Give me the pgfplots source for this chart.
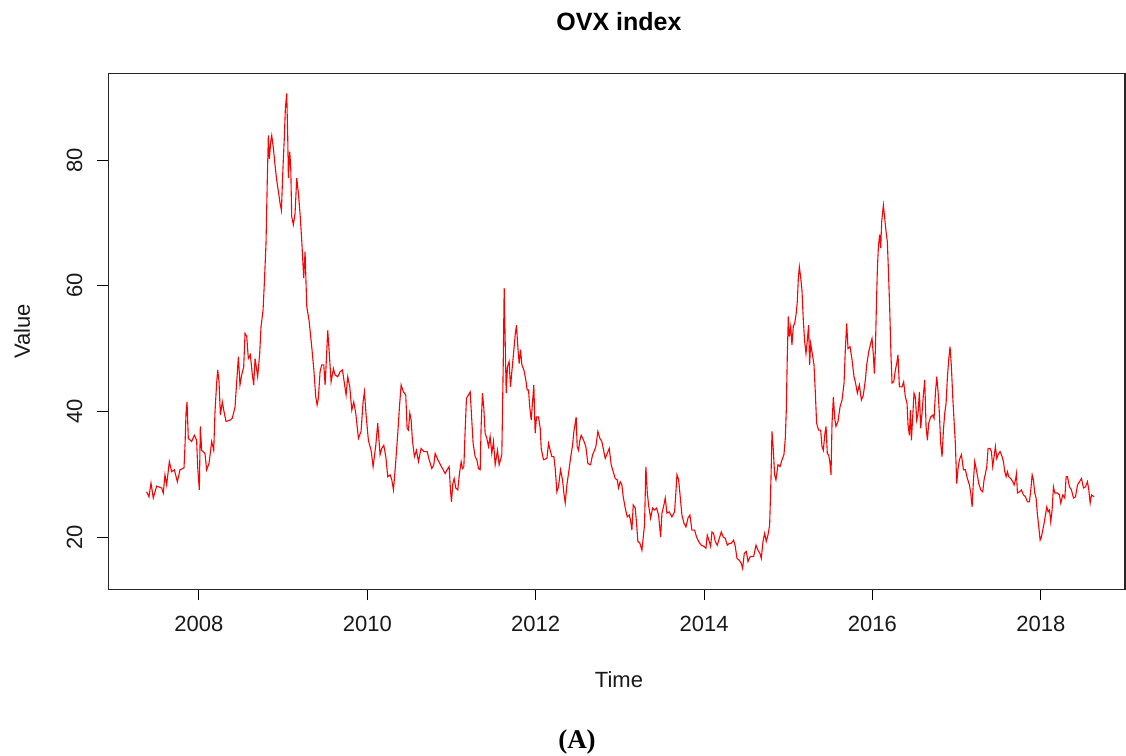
\documentclass[border=0pt]{standalone}
\usepackage{pgfplots}
\pgfplotsset{compat=1.18}
\usepackage{fontspec}
\setmainfont{Liberation Sans}
\newfontfamily\serifA{Liberation Serif}
\begin{document}
\begin{tikzpicture}
\path[use as bounding box] (0pt,0pt) rectangle (563pt,378pt);
\begin{axis}[
  at={(54.2pt,83.35pt)}, anchor=south west,
  scale only axis, width=508.3pt, height=258pt,
  xmin=2006.925, xmax=2019.0, ymin=11.68, ymax=93.8,
  xtick={2008,2010,2012,2014,2016,2018},
  ytick={20,40,60,80},
  xticklabels={2008,2010,2012,2014,2016,2018},
  yticklabels={20,40,60,80},
  tick align=outside, major tick length=5.5pt,
  xtick pos=bottom, ytick pos=left,
  tick style={black, line width=0.5pt},
  axis line style={line width=0.6pt, draw=black!85},
  tick label style={font=\fontsize{11}{13}\selectfont, text=black!90},
  xticklabel shift=4.5pt,
  yticklabel style={rotate=90, anchor=south},
  yticklabel shift=4pt,
  clip=true,
]
\addplot[red, line width=0.55pt] coordinates {
(2007.379,27.2)(2007.407,26.4)(2007.431,28.6)(2007.458,26.2)(2007.498,28.1)(2007.558,27.8)(2007.577,27.0)(2007.597,29.9)(2007.617,28.3)(2007.649,32.0)(2007.676,30.4)(2007.708,30.7)(2007.744,28.8)(2007.775,30.7)(2007.823,31.0)(2007.835,34.6)(2007.847,39.7)(2007.859,41.5)(2007.874,35.7)(2007.914,35.2)(2007.946,36.2)(2007.973,35.4)(2007.985,31.2)(2008.005,27.5)(2008.017,37.6)(2008.033,33.8)(2008.072,33.3)(2008.092,30.7)(2008.120,31.7)(2008.152,35.2)(2008.176,33.8)(2008.191,39.9)(2008.211,44.5)(2008.223,46.6)(2008.239,44.7)(2008.255,39.4)(2008.278,41.5)(2008.302,39.7)(2008.322,38.4)(2008.370,38.6)(2008.397,38.9)(2008.429,40.7)(2008.449,44.7)(2008.469,48.7)(2008.488,44.2)(2008.508,45.8)(2008.532,47.1)(2008.548,52.4)(2008.568,51.9)(2008.587,48.4)(2008.611,49.0)(2008.635,45.8)(2008.651,44.2)
(2008.667,48.4)(2008.698,45.5)(2008.722,49.2)(2008.738,53.5)(2008.762,56.1)(2008.778,60.6)(2008.797,66.7)(2008.813,77.3)(2008.825,83.9)(2008.837,80.2)(2008.853,82.9)(2008.865,83.9)(2008.885,81.8)(2008.904,79.2)(2008.924,76.8)(2008.944,75.0)(2008.964,73.1)(2008.980,72.0)(2008.999,78.9)(2009.015,83.7)(2009.027,88.2)(2009.043,90.6)(2009.055,83.7)(2009.063,77.1)(2009.079,81.3)(2009.091,78.7)(2009.102,71.0)(2009.122,69.7)(2009.142,71.5)(2009.162,77.1)(2009.182,74.7)(2009.201,71.5)(2009.221,67.3)(2009.245,61.2)(2009.261,65.4)(2009.281,56.7)(2009.308,54.5)(2009.340,50.3)(2009.364,46.8)(2009.388,42.3)(2009.404,41.0)(2009.419,42.1)(2009.439,46.3)(2009.459,47.4)(2009.483,47.4)(2009.499,44.2)(2009.514,48.2)(2009.530,52.9)(2009.546,49.8)(2009.570,44.7)(2009.598,46.8)(2009.617,45.8)(2009.649,45.5)(2009.677,46.3)(2009.705,46.6)(2009.728,44.5)(2009.748,42.6)(2009.768,45.5)(2009.792,43.9)(2009.816,40.2)(2009.839,41.5)(2009.863,39.7)(2009.895,35.7)(2009.926,36.8)(2009.950,41.5)(2009.966,43.1)(2009.986,39.4)(2010.013,35.4)(2010.045,33.8)(2010.069,31.2)(2010.101,34.6)(2010.124,38.1)
(2010.152,33.1)(2010.172,34.1)(2010.196,34.6)(2010.220,32.8)(2010.243,29.6)(2010.271,29.9)(2010.291,29.1)(2010.311,27.5)(2010.338,32.0)(2010.362,36.5)(2010.382,40.7)(2010.402,44.2)(2010.429,43.1)(2010.457,42.6)(2010.473,37.3)(2010.489,37.0)(2010.505,39.7)(2010.521,38.6)(2010.536,35.4)(2010.560,32.8)(2010.584,33.8)(2010.608,32.0)(2010.639,34.1)(2010.671,33.6)(2010.711,33.6)(2010.735,32.3)(2010.766,30.9)(2010.790,31.5)(2010.806,33.3)(2010.838,32.3)(2010.869,31.5)(2010.893,30.9)(2010.925,30.1)(2010.948,30.7)(2010.972,31.2)(2010.988,27.5)(2011.000,25.6)(2011.016,28.5)(2011.032,29.3)(2011.051,27.8)(2011.075,27.5)(2011.095,30.1)(2011.115,32.0)(2011.131,30.9)(2011.147,31.2)(2011.162,36.8)(2011.178,42.1)(2011.202,42.6)(2011.222,43.1)(2011.242,38.4)(2011.257,34.9)(2011.281,32.8)(2011.301,32.3)(2011.321,30.9)(2011.341,30.7)(2011.352,37.6)(2011.368,42.9)(2011.384,40.5)(2011.400,36.5)(2011.420,35.7)(2011.440,34.4)(2011.459,36.0)(2011.479,33.3)(2011.499,35.2)(2011.519,31.5)(2011.547,33.8)(2011.566,31.5)
(2011.598,33.1)(2011.614,46.8)(2011.626,59.6)(2011.638,51.1)(2011.650,42.9)(2011.665,47.1)(2011.685,47.9)(2011.701,43.9)(2011.717,46.3)(2011.737,49.2)(2011.757,52.2)(2011.772,53.7)(2011.788,50.3)(2011.804,47.6)(2011.820,49.8)(2011.836,47.4)(2011.860,46.6)(2011.883,45.0)(2011.899,43.4)(2011.915,43.4)(2011.931,40.5)(2011.947,38.6)(2011.962,41.3)(2011.978,44.2)(2011.994,36.5)(2012.010,39.1)(2012.034,39.1)(2012.054,37.3)(2012.066,34.1)(2012.093,32.3)(2012.133,32.5)(2012.153,34.9)(2012.173,33.8)(2012.192,32.8)(2012.216,32.8)(2012.232,30.9)(2012.252,27.2)(2012.271,28.0)(2012.295,30.7)(2012.319,29.1)(2012.335,27.0)(2012.351,25.4)(2012.371,28.3)(2012.390,30.1)(2012.414,32.5)(2012.438,34.6)(2012.454,36.8)(2012.470,38.1)(2012.481,39.1)(2012.493,34.4)(2012.509,33.8)(2012.525,35.4)(2012.541,36.2)(2012.569,35.4)(2012.596,34.4)(2012.620,31.7)(2012.652,31.5)(2012.676,33.1)(2012.699,33.8)(2012.715,34.4)(2012.739,36.8)(2012.763,35.7)(2012.786,35.2)(2012.810,33.6)(2012.826,32.5)(2012.850,33.3)(2012.874,34.1)(2012.897,31.5)(2012.921,30.4)(2012.945,29.3)(2012.969,29.1)
(2012.984,27.8)(2013.004,28.8)(2013.024,28.3)(2013.040,26.4)(2013.064,24.6)(2013.088,23.2)(2013.111,23.5)(2013.127,22.7)(2013.143,21.1)(2013.159,25.1)(2013.183,24.6)(2013.198,22.2)(2013.214,19.3)(2013.238,19.0)(2013.262,17.9)(2013.278,20.0)(2013.293,21.9)(2013.309,31.2)(2013.325,27.2)(2013.341,25.1)(2013.365,23.0)(2013.389,24.6)(2013.412,24.3)(2013.436,24.6)(2013.460,23.5)(2013.484,20.0)(2013.500,23.8)(2013.523,25.1)(2013.539,26.2)(2013.559,23.8)(2013.587,24.0)(2013.618,23.2)(2013.650,24.0)(2013.666,27.2)(2013.678,29.9)(2013.698,29.1)(2013.717,26.4)(2013.737,23.5)(2013.761,22.2)(2013.785,21.6)(2013.809,23.0)(2013.832,23.5)(2013.856,21.1)(2013.888,21.1)(2013.911,20.0)(2013.935,19.3)(2013.967,18.7)(2013.999,18.5)(2014.022,18.2)(2014.038,20.3)(2014.062,19.3)(2014.078,18.5)(2014.094,20.8)(2014.113,20.6)(2014.133,19.3)(2014.157,18.7)(2014.181,19.8)(2014.205,20.8)(2014.228,20.0)(2014.252,19.8)(2014.276,18.7)(2014.300,19.0)(2014.323,19.0)(2014.351,19.5)
(2014.371,18.5)(2014.391,16.6)(2014.419,16.3)(2014.442,15.8)(2014.458,15.0)(2014.478,17.4)(2014.502,17.7)(2014.522,16.1)(2014.549,16.9)(2014.589,16.9)(2014.617,18.7)(2014.640,17.9)(2014.664,17.4)(2014.680,16.6)(2014.700,19.3)(2014.720,20.6)(2014.739,19.3)(2014.759,20.3)(2014.779,21.9)(2014.795,29.3)(2014.807,36.8)(2014.823,33.8)(2014.838,29.9)(2014.854,29.1)(2014.878,31.5)(2014.902,31.2)(2014.926,32.3)(2014.949,33.1)(2014.965,35.7)(2014.977,40.2)(2014.989,49.0)(2015.001,55.1)(2015.013,51.9)(2015.029,53.5)(2015.044,50.6)(2015.060,53.5)(2015.076,54.0)(2015.092,55.3)(2015.108,57.5)(2015.120,61.2)(2015.132,63.0)(2015.147,61.4)(2015.163,59.3)(2015.179,54.5)(2015.195,51.1)(2015.211,49.2)(2015.227,51.4)(2015.242,53.7)(2015.254,47.4)(2015.266,50.8)(2015.282,49.5)(2015.306,47.4)(2015.322,42.9)(2015.337,38.1)(2015.361,37.0)(2015.385,37.0)(2015.401,34.4)(2015.417,33.8)(2015.433,36.2)(2015.449,37.6)(2015.464,33.3)(2015.480,33.1)(2015.496,31.7)(2015.508,29.9)(2015.520,38.1)(2015.536,42.3)(2015.552,38.9)(2015.567,37.6)(2015.591,38.4)(2015.615,40.7)(2015.639,41.8)(2015.663,44.5)(2015.678,49.8)(2015.694,54.0)(2015.710,50.0)(2015.734,50.3)(2015.758,48.2)(2015.781,45.5)
(2015.797,44.7)(2015.821,42.9)(2015.845,44.2)(2015.869,41.8)(2015.892,42.6)(2015.916,45.0)(2015.932,47.4)(2015.956,49.5)(2015.979,50.8)(2015.995,51.6)(2016.011,49.0)(2016.023,46.0)(2016.035,49.8)(2016.047,56.7)(2016.059,62.8)(2016.071,66.2)(2016.086,68.1)(2016.098,66.0)(2016.110,70.2)(2016.130,72.8)(2016.146,70.7)(2016.162,68.6)(2016.177,67.0)(2016.189,62.8)(2016.205,56.4)(2016.221,48.7)(2016.233,44.5)(2016.253,44.7)(2016.273,46.6)(2016.288,47.6)(2016.304,49.0)(2016.320,43.9)(2016.352,43.9)(2016.371,44.7)(2016.391,42.3)(2016.411,41.3)(2016.423,37.8)(2016.439,36.2)(2016.451,40.2)(2016.463,35.4)(2016.478,39.1)(2016.494,42.9)(2016.510,42.3)(2016.526,38.6)(2016.542,39.7)(2016.558,43.1)(2016.573,37.3)(2016.589,39.7)(2016.605,42.6)(2016.621,45.0)(2016.637,37.6)(2016.653,35.4)(2016.668,38.1)(2016.692,39.1)(2016.716,39.4)(2016.732,38.9)(2016.748,42.9)(2016.764,45.5)(2016.780,43.1)(2016.795,39.7)(2016.811,34.9)(2016.827,32.8)(2016.843,37.0)(2016.859,39.7)(2016.875,41.3)(2016.890,45.3)(2016.906,48.2)(2016.922,50.3)(2016.938,47.1)(2016.954,42.3)(2016.970,38.4)(2016.985,34.9)(2017.001,28.5)(2017.017,30.9)(2017.033,32.3)(2017.057,33.1)(2017.081,30.7)(2017.104,30.7)(2017.128,29.3)(2017.152,28.3)(2017.168,27.0)(2017.184,24.8)(2017.199,28.8)(2017.215,32.0)
(2017.239,30.4)(2017.263,28.5)(2017.287,27.5)(2017.310,27.2)(2017.326,29.1)(2017.342,30.1)(2017.358,31.2)(2017.374,34.1)(2017.397,34.1)(2017.413,33.6)(2017.429,31.2)(2017.445,32.8)(2017.461,34.4)(2017.477,32.5)(2017.492,33.1)(2017.516,33.6)(2017.540,32.8)(2017.556,32.0)(2017.572,30.4)(2017.588,29.6)(2017.603,30.4)(2017.619,29.6)(2017.643,29.3)(2017.667,28.8)(2017.683,28.3)(2017.699,29.1)(2017.711,30.1)(2017.722,27.0)(2017.746,27.2)(2017.770,27.5)(2017.794,26.7)(2017.817,26.4)(2017.841,25.6)(2017.865,25.6)(2017.881,27.5)(2017.897,29.9)(2017.912,29.1)(2017.928,27.0)(2017.944,26.2)(2017.960,23.5)(2017.976,21.6)(2017.992,19.5)(2018.007,20.0)(2018.023,21.1)(2018.039,22.2)(2018.055,23.5)(2018.071,24.8)(2018.087,24.0)(2018.103,24.3)(2018.118,22.4)(2018.134,24.3)(2018.150,28.0)(2018.166,27.0)(2018.198,27.0)(2018.221,26.7)(2018.237,25.4)(2018.261,26.7)(2018.285,26.2)(2018.301,29.6)(2018.317,29.6)(2018.340,28.0)(2018.364,27.5)(2018.388,26.2)(2018.412,26.4)(2018.436,28.3)(2018.459,28.8)(2018.483,29.3)(2018.507,27.8)(2018.531,28.0)(2018.554,28.8)(2018.570,27.5)(2018.586,25.4)(2018.602,26.7)(2018.633,26.4)
};
\end{axis}
\node[font=\bfseries\fontsize{12.5}{15}\selectfont] at (309.5pt,367pt) {OVX index};
\node[font=\fontsize{11}{13}\selectfont, text=black!90] at (309.5pt,38pt) {Time};
\node[font=\fontsize{11}{13}\selectfont, text=black!90, rotate=90] at (11pt,212.4pt) {Value};
\node[font=\serifA\bfseries\fontsize{13.5}{16}\selectfont] at (288.5pt,6.8pt) {(A)};
\end{tikzpicture}
\end{document}
